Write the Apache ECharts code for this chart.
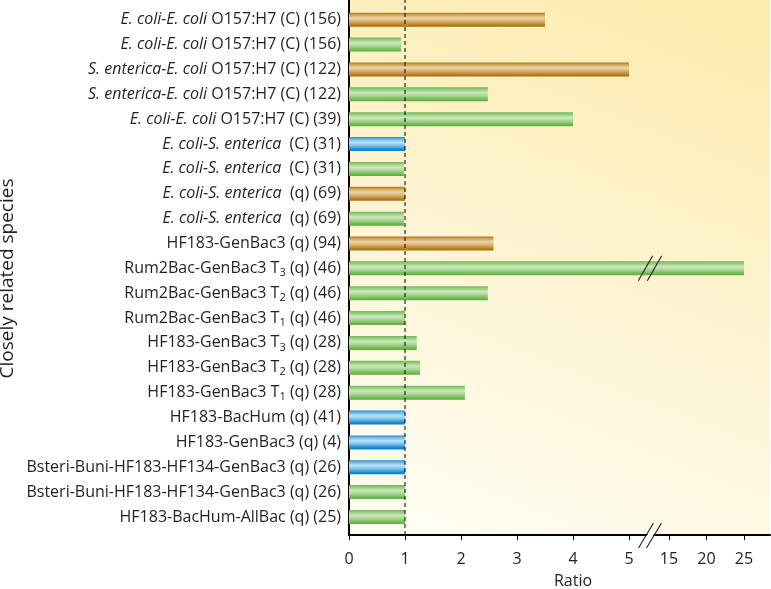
<!DOCTYPE html>
<html><head><meta charset="utf-8">
<script src="https://cdn.jsdelivr.net/npm/echarts@6/dist/echarts.min.js"></script>
<style>html,body{margin:0;padding:0;background:#fff}#c{width:771px;height:589px}</style>
</head><body><div id="c"></div>
<script>
// ---------------- data ----------------
const categories = [
  'E. coli-E. coli O157:H7 (C) (156)',
  'E. coli-E. coli O157:H7 (C) (156)',
  'S. enterica-E. coli O157:H7 (C) (122)',
  'S. enterica-E. coli O157:H7 (C) (122)',
  'E. coli-E. coli O157:H7 (C) (39)',
  'E. coli-S. enterica  (C) (31)',
  'E. coli-S. enterica  (C) (31)',
  'E. coli-S. enterica  (q) (69)',
  'E. coli-S. enterica  (q) (69)',
  'HF183-GenBac3 (q) (94)',
  'Rum2Bac-GenBac3 T₃ (q) (46)',
  'Rum2Bac-GenBac3 T₂ (q) (46)',
  'Rum2Bac-GenBac3 T₁ (q) (46)',
  'HF183-GenBac3 T₃ (q) (28)',
  'HF183-GenBac3 T₂ (q) (28)',
  'HF183-GenBac3 T₁ (q) (28)',
  'HF183-BacHum (q) (41)',
  'HF183-GenBac3 (q) (4)',
  'Bsteri-Buni-HF183-HF134-GenBac3 (q) (26)',
  'Bsteri-Buni-HF183-HF134-GenBac3 (q) (26)',
  'HF183-BacHum-AllBac (q) (25)'
];
const ratios = [3.5, 0.93, 5.0, 2.48, 4.0, 1.0, 0.98, 1.0, 0.98, 2.58, 25, 2.48, 1.0, 1.21, 1.27, 2.07, 1.0, 1.0, 1.0, 1.0, 1.0];
const barGroups = ['brown','green','brown','green','green','blue','green','brown','green','brown',
                   'green','green','green','green','green','green','blue','blue','blue','green','green'];
const lowerTicks = [0, 1, 2, 3, 4, 5];
const upperTicks = [15, 20, 25];
const referenceRatio = 1;
const yTitle = 'Closely related species';
const xTitle = 'Ratio';

// ---------------- layout / style ----------------
const FONT = '"Open Sans", "Liberation Sans", sans-serif';
const TXT = '#231f20';
const lowMin = 0, lowMax = 5.375, highMin = 12.467, highMax = 28.467;
const PL = 349, PBRK = 650, PR = 770, AXY = 535;
const BAR_TOP = 7.3, BAR_H = 522.1;

function vgrad(stops) {
  return new echarts.graphic.LinearGradient(0, 0, 0, 1, stops.map(c => ({offset: c[0], color: c[1]})));
}
const palette = {
  green: vgrad([[0,'#6fb752'],[0.12,'#8cc873'],[0.38,'#cde8bf'],[0.62,'#a6d58f'],[0.88,'#6db750'],[1,'#60ab42']]),
  brown: vgrad([[0,'#ab751a'],[0.12,'#c99a4c'],[0.38,'#efd6a8'],[0.62,'#d6ae6e'],[0.88,'#b47e1d'],[1,'#a46d14']]),
  blue:  vgrad([[0,'#178cd0'],[0.12,'#5eb0e2'],[0.38,'#c0e2f6'],[0.62,'#7cc0ea'],[0.88,'#118ad0'],[1,'#0a7fc4']])
};
const subMap = {'₁':'1','₂':'2','₃':'3'};
function fmtLabel(s) {
  s = s.replace(/^(E\. coli-E\. coli|S\. enterica-E\. coli|E\. coli-S\. enterica)/, '{i|$1}');
  s = s.replace(/[₁₂₃]/g, m => '{s|' + subMap[m] + '}');
  return s;
}
const lowData = ratios.map((v, i) => ({value: v, itemStyle: {color: palette[barGroups[i]]}}));
const highData = ratios.map((v, i) => v > highMin ? {value: v, itemStyle: {color: palette[barGroups[i]]}} : '-');

const chart = echarts.init(document.getElementById('c'), null, {renderer: 'canvas'});
const baseGrid = {containLabel: false, outerBoundsMode: 'none'};

const option = {
  animation: false,
  backgroundColor: '#ffffff',
  textStyle: {fontFamily: FONT, color: TXT},
  grid: [
    Object.assign({left: PL, top: 0, width: PR - PL, height: AXY, show: true, borderWidth: 0,
      backgroundColor: new echarts.graphic.LinearGradient(0.25, 1, 0.75, 0, [
        {offset: 0, color: '#fffdf1'}, {offset: 0.5, color: '#fef4d2'}, {offset: 1, color: '#fdecaf'}])}, baseGrid),
    Object.assign({left: PL, top: 0, width: PBRK - PL, height: AXY}, baseGrid),
    Object.assign({left: PBRK, top: 0, width: PR - PBRK, height: AXY}, baseGrid),
    Object.assign({left: PL, top: BAR_TOP, width: PBRK - PL, height: BAR_H}, baseGrid),
    Object.assign({left: PBRK, top: BAR_TOP, width: PR - PBRK, height: BAR_H}, baseGrid)
  ],
  xAxis: [
    {gridIndex: 0, type: 'value', min: 0, max: 1, axisLine: {show: false}, axisTick: {show: false},
     axisLabel: {show: false}, splitLine: {show: false},
     name: xTitle, nameLocation: 'middle', nameGap: 38,
     nameTextStyle: {fontFamily: FONT, fontSize: 16, color: TXT, padding: [0, 0, 0, 27]}},
    {gridIndex: 1, type: 'value', min: lowMin, max: lowMax,
     axisLine: {show: true, onZero: false, lineStyle: {color: '#000', width: 2}},
     axisTick: {show: true, length: 5, customValues: lowerTicks, lineStyle: {color: '#000', width: 1}},
     axisLabel: {show: true, customValues: lowerTicks, margin: 16, fontFamily: FONT, fontSize: 16, color: TXT},
     splitLine: {show: false}},
    {gridIndex: 2, type: 'value', min: highMin, max: highMax,
     axisLine: {show: true, onZero: false, lineStyle: {color: '#000', width: 2}},
     axisTick: {show: true, length: 5, customValues: upperTicks, lineStyle: {color: '#000', width: 1}},
     axisLabel: {show: true, customValues: upperTicks, margin: 16, fontFamily: FONT, fontSize: 16, color: TXT},
     splitLine: {show: false}},
    {gridIndex: 3, type: 'value', min: lowMin, max: lowMax, show: false},
    {gridIndex: 4, type: 'value', min: highMin, max: highMax, show: false}
  ],
  yAxis: [
    {gridIndex: 0, type: 'value', min: 0, max: 1, show: false},
    {gridIndex: 1, type: 'value', min: 0, max: 1,
     axisLine: {show: true, onZero: false, lineStyle: {color: '#000', width: 2}},
     axisTick: {show: false}, axisLabel: {show: false}, splitLine: {show: false},
     name: yTitle, nameLocation: 'middle', nameGap: 332, nameRotate: 90,
     nameTextStyle: {fontFamily: FONT, fontSize: 19, color: TXT, padding: [0, 22, 0, 0]}},
    {gridIndex: 2, type: 'value', min: 0, max: 1, show: false},
    {gridIndex: 3, type: 'category', inverse: true, data: categories,
     axisLine: {show: false}, axisTick: {show: false}, splitLine: {show: false},
     axisLabel: {show: true, margin: 8, interval: 0, formatter: fmtLabel,
       fontFamily: FONT, fontSize: 16, lineHeight: 20, color: TXT,
       rich: {
         i: {fontFamily: FONT, fontSize: 16, lineHeight: 20, fontStyle: 'italic', color: TXT},
         s: {fontFamily: FONT, fontSize: 11, lineHeight: 11, verticalAlign: 'bottom', color: TXT}
       }}},
    {gridIndex: 4, type: 'category', inverse: true, data: categories, show: false}
  ],
  series: [
    {type: 'bar', xAxisIndex: 3, yAxisIndex: 3, data: lowData, barWidth: 14, clip: true, z: 2},
    {type: 'bar', xAxisIndex: 4, yAxisIndex: 4, data: highData, barWidth: 14, clip: true, z: 2},
    {type: 'line', xAxisIndex: 1, yAxisIndex: 1, data: [[referenceRatio, 0], [referenceRatio, 1]],
     symbol: 'none', silent: true, z: 5,
     lineStyle: {color: '#000', width: 1, type: [4, 3]}}
  ]
};
chart.setOption(option);

// axis-break decorations
const breakIdx = ratios.findIndex(v => v > highMin);
const xb = chart.convertToPixel({xAxisIndex: 3}, lowMax);
const yb = chart.convertToPixel({yAxisIndex: 3}, breakIdx);
function slash(cx, cy, h, w) {
  return {type: 'line', z: 100, shape: {x1: cx - w / 2, y1: cy + h / 2, x2: cx + w / 2, y2: cy - h / 2},
          style: {stroke: '#231f20', lineWidth: 1.1}};
}
const k = 15 / 25;
const ay = AXY + 0.5;
const g = [
  {type: 'polygon', z: 99, shape: {points: [
     [xb - 4 + 1 + k * 4, ay - 4], [xb + 4 - 1 + k * 4, ay - 4],
     [xb + 4 - 1 - k * 4, ay + 4], [xb - 4 + 1 - k * 4, ay + 4]]},
   style: {fill: '#ffffff'}},
  slash(xb - 4.5, yb, 25, 14.4), slash(xb + 4.5, yb, 25, 14.4),
  slash(xb - 4, ay, 25, 15), slash(xb + 4, ay, 25, 15)
];
chart.setOption({graphic: g});
</script>
</body></html>
